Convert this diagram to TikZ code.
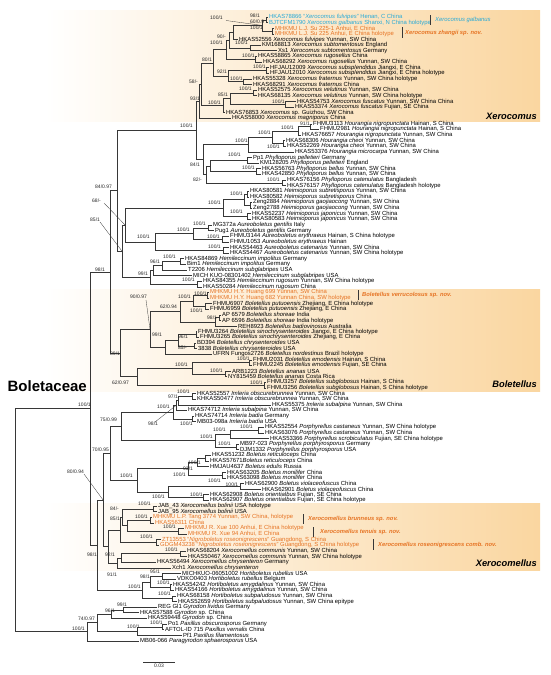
\documentclass[tikz,border=0pt]{standalone}
\usepackage{fontspec}
\setmainfont{Liberation Sans}
\usetikzlibrary{calc}
\definecolor{orng}{RGB}{230,115,35}
\definecolor{cyn}{RGB}{40,170,215}
\definecolor{peach}{RGB}{250,214,160}
\definecolor{ln}{RGB}{55,55,55}
\tikzset{
 br/.style={draw=ln, line width=0.5pt},
 leaf/.style={anchor=west, inner xsep=1pt, inner ysep=0pt, font=\fontsize{5.9}{6}\selectfont, text=black},
 orl/.style={text=orng},
 cyl/.style={text=cyn},
 sup/.style={anchor=west, inner sep=0pt, font=\fontsize{5}{5}\selectfont, text=black!85},
 cl/.style={anchor=west, inner sep=0pt, font=\fontsize{5.8}{6}\selectfont\bfseries\itshape, text=orng},
 big/.style={anchor=east, inner sep=0pt, font=\fontsize{9.3}{10}\selectfont\bfseries\itshape},
 bar/.style={draw=ln, line width=0.8pt},
 lead/.style={draw=ln, line width=0.3pt},
}
\newcommand\Lf[4][]{\node[leaf,#1] (L#2) at ({#3-1},{17+(#2-1)*5.62}) {#4};}
\newcommand\Nd[4]{\path let \p1=(#3), \p2=(#4) in (#2pt,{0.5*(\y1+\y2)}) coordinate (#1);
 \draw[br] (#1) |- (#3); \draw[br] (#1) |- (#4);}
\newcommand\Sv[3]{\node[sup] at (#1,#2) {#3};}
\begin{document}
\begin{tikzpicture}[x=1pt,y=-1pt]
\useasboundingbox (0,0) rectangle (550,675);
% highlighted clades
\shade[left color=white,right color=peach] (45,10) rectangle (540,121);
\shade[left color=white,right color=peach] (45,289) rectangle (540,391);
\shade[left color=white,right color=peach] (45,503) rectangle (540,570);
% leaves
\Lf[cyl]{1}{269}{HKAS78866 “\textit{Xerocomus fulvipes}” Henan, C China}
\Lf[cyl]{2}{269}{BJTCFM1790 \textit{Xerocomus galbanus} Shanxi, N China holotype}
\Lf[orl]{3}{275}{MHKMU L.J. Su 225-1 Anhui, E China}
\Lf[orl]{4}{275}{MHKMU L.J. Su 225 Anhui, E China holotype}
\Lf{5}{239}{HKAS52556 \textit{Xerocomus fulvipes} Yunnan, SW China}
\Lf{6}{262}{KM168813 \textit{Xerocomus subtomentosus} England}
\Lf{7}{278}{Xs1 \textit{Xerocomus subtomentosus} Germany}
\Lf{8}{258}{HKAS58865 \textit{Xerocomus rugosellus} China}
\Lf{9}{263}{HKAS68292 \textit{Xerocomus rugosellus} Yunnan, SW China}
\Lf{10}{270}{HFJAU12009 \textit{Xerocomus subsplendidus} Jiangxi, E China}
\Lf{11}{270}{HFJAU12010 \textit{Xerocomus subsplendidus} Jiangxi, E China holotype}
\Lf{12}{253}{HKAS55328 \textit{Xerocomus fraternus} Yunnan, SW China holotype}
\Lf{13}{253}{HKAS68291 \textit{Xerocomus fraternus} China}
\Lf{14}{258}{HKAS52575 \textit{Xerocomus velutinus} Yunnan, SW China}
\Lf{15}{258}{HKAS68135 \textit{Xerocomus velutinus} Yunnan, SW China holotype}
\Lf{16}{297}{HKAS54753 \textit{Xerocomus fuscatus} Yunnan, SW China China}
\Lf{17}{295}{HKAS53374 \textit{Xerocomus fuscatus} Fujian, SE China}
\Lf{18}{226}{HKAS76853 \textit{Xerocomus} sp. Guizhou, SW China}
\Lf{19}{232}{HKAS58000 \textit{Xerocomus magniporus} China}
\Lf{20}{313}{FHMU3113 \textit{Hourangia nigropunctata} Hainan, S China}
\Lf{21}{320}{FHMU2981 \textit{Hourangia nigropunctata} Hainan, S China}
\Lf{22}{302}{HKAS76657 \textit{Hourangia nigropunctata} Yunnan, SW China}
\Lf{23}{286}{HKAS68306 \textit{Hourangia cheoi} Yunnan, SW China}
\Lf{24}{287}{HKAS52269 \textit{Hourangia cheoi} Yunnan, SW China}
\Lf{25}{295}{HKAS53376 \textit{Hourangia microcarpa} Yunnan, SW China}
\Lf{26}{253}{Pp1 \textit{Phylloporus pelletieri} Germany}
\Lf{27}{260}{KM128205 \textit{Phylloporus pelletieri} England}
\Lf{28}{262}{HKAS56763 \textit{Phylloporus bellus} Yunnan, SW China}
\Lf{29}{262}{HKAS42850 \textit{Phylloporus bellus} Yunnan, SW China}
\Lf{30}{287}{HKAS76156 \textit{Phylloporus catenulatus} Bangladesh}
\Lf{31}{287}{HKAS76157 \textit{Phylloporus catenulatus} Bangladesh holotype}
\Lf{32}{250}{HKAS80581 \textit{Heimioporus subretisporus} Yunnan, SW China}
\Lf{33}{250}{HKAS80582 \textit{Heimioporus subretisporus} China}
\Lf{34}{253}{Zeng2884 \textit{Heimioporus gaojiaocong} Yunnan, SW China}
\Lf{35}{253}{Zeng2788 \textit{Heimioporus gaojiaocong} Yunnan, SW China}
\Lf{36}{252}{HKAS52237 \textit{Heimioporus japonicus} Yunnan, SW China}
\Lf{37}{252}{HKAS80583 \textit{Heimioporus japonicus} Yunnan, SW China}
\Lf{38}{213}{MG372a \textit{Aureoboletus gentilis} Italy}
\Lf{39}{215}{Pug1 \textit{Aureoboletus gentilis} Germany}
\Lf{40}{230}{FHMU3144 \textit{Aureoboletus erythraeus} Hainan, S China holotype}
\Lf{41}{230}{FHMU1053 \textit{Aureoboletus erythraeus} Hainan}
\Lf{42}{230}{HKAS54463 \textit{Aureoboletus catenarius} Yunnan, SW China}
\Lf{43}{230}{HKAS54467 \textit{Aureoboletus catenarius} Yunnan, SW China holotype}
\Lf{44}{185}{HKAS84869 \textit{Hemileccinum impolitus} Germany}
\Lf{45}{187}{Bim1 \textit{Hemileccinum impolitus} Germany}
\Lf{46}{188}{T2206 \textit{Hemileccinum subglabripes} USA}
\Lf{47}{193}{MICH KUO-08301402 \textit{Hemileccinum subglabripes} USA}
\Lf{48}{203}{HKAS84355 \textit{Hemileccinum rugosum} Yunnan, SW China holotype}
\Lf{49}{203}{HKAS50284 \textit{Hemileccinum rugosum} China}
\Lf[orl]{50}{210}{MHKMU H.Y. Huang 699 Yunnan, SW China}
\Lf[orl]{51}{210}{MHKMU H.Y. Huang 682 Yunnan China, SW holotype}
\Lf{52}{213}{FHMU6907 \textit{Boletellus putuoensis} Zhejiang, E China holotype}
\Lf{53}{210}{FHMU6959 \textit{Boletellus putuoensis} Zhejiang, E China}
\Lf{54}{222}{AP 6579 \textit{Boletellus shoreae} India}
\Lf{55}{222}{AP 6596 \textit{Boletellus shoreae} India holotype}
\Lf{56}{238}{REH8923 \textit{Boletellus badiovinosus} Australia}
\Lf{57}{198}{FHMU3264 \textit{Boletellus sinochrysenteroides} Jiangxi, E China holotype}
\Lf{58}{200}{FHMU3265 \textit{Boletellus sinochrysenteroides} Zhejiang, E China}
\Lf{59}{197}{BD394 \textit{Boletellus chrysenteroides} USA}
\Lf{60}{198}{3838 \textit{Boletellus chrysenteroides} USA}
\Lf{61}{213}{UFRN Fungos2726 \textit{Boletellus nordestinus} Brazil holotype}
\Lf{62}{253}{FHMU2031 \textit{Boletellus emodensis} Hainan, S China}
\Lf{63}{253}{FHMU2245 \textit{Boletellus emodensis} Fujian, SE China}
\Lf{64}{232}{ARB1223 \textit{Boletellus ananas} USA}
\Lf{65}{228}{NY815459 \textit{Boletellus ananas} Costa Rica}
\Lf{66}{267}{FHMU3257 \textit{Boletellus subglobosus} Hainan, S China}
\Lf{67}{267}{FHMU3256 \textit{Boletellus subglobosus} Hainan, S China holotype}
\Lf{68}{197}{HKAS52557 \textit{Imleria obscurebrunnea} Yunnan, SW China}
\Lf{69}{197}{KHKAS50477 \textit{Imleria obscurebrunnea} Yunnan, SW China}
\Lf{70}{272}{HKAS55375 \textit{Imleria subalpina} Yunnan, SW China}
\Lf{71}{188}{HKAS74712 \textit{Imleria subalpina} Yunnan, SW China}
\Lf{72}{195}{HKAS74714 \textit{Imleria badia} Germany}
\Lf{73}{197}{MB03-098a \textit{Imleria badia} USA}
\Lf{74}{265}{HKAS52554 \textit{Porphyrellus castaneus} Yunnan, SW China holotype}
\Lf{75}{265}{HKAS63076 \textit{Porphyrellus castaneus} Yunnan, SW China}
\Lf{76}{270}{HKAS53366 \textit{Porphyrellus scrobiculatus} Fujian, SE China holotype}
\Lf{77}{240}{MB97-023 \textit{Porphyrellus porphyrosporus} Germany}
\Lf{78}{240}{DJM1332 \textit{Porphyrellus porphyrosporus} USA}
\Lf{79}{212}{HKAS51232 \textit{Boletus reticuloceps} China}
\Lf{80}{210}{HKAS57671\textit{Boletus reticuloceps} China}
\Lf{81}{210}{HMJAU4637 \textit{Boletus edulis} Russia}
\Lf{82}{227}{HKAS63205 \textit{Boletus monilifer} China}
\Lf{83}{227}{HKAS63098 \textit{Boletus monilifer} China}
\Lf{84}{245}{HKAS62900 \textit{Boletus violaceofuscus} China}
\Lf{85}{262}{HKAS62901 \textit{Boletus violaceofuscus} China}
\Lf{86}{210}{HKAS62908 \textit{Boletus orientialbus} Fujian, SE China}
\Lf{87}{210}{HKAS62907 \textit{Boletus orientialbus} Fujian, SE China holotype}
\Lf{88}{158}{JAB\_43 \textit{Xerocomellus bolinii} USA holotype}
\Lf{89}{158}{JAB\_95 \textit{Xerocomellus bolinii} USA}
\Lf[orl]{90}{153}{MHKMU L.P. Tang 3774 Yunnan, SW China, holotype}
\Lf[orl]{91}{155}{HKAS56311 China}
\Lf[orl]{92}{185}{MHKMU R. Xue 100 Anhui, E China holotype}
\Lf[orl]{93}{188}{MHKMU R. Xue 94 Anhui, E China}
\Lf[orl]{94}{162}{ZT13553 “\textit{Nigroboletus roseonigrescens}” Guangdong, S China}
\Lf[orl]{95}{160}{GDGM43238 “\textit{Nigroboletus roseonigrescens}” Guangdong, S China holotype}
\Lf{96}{187}{HKAS68204 \textit{Xerocomellus communis} Yunnan, SW China}
\Lf{97}{188}{HKAS50467 \textit{Xerocomellus communis} Yunnan, SW China holotype}
\Lf{98}{157}{HKAS56494 \textit{Xerocomellus chrysenteron} Germany}
\Lf{99}{172}{Xch1 \textit{Xerocomellus chrysenteron}}
\Lf{100}{182}{MICHKUO-06051002 \textit{Hortiboletus rubellus} USA}
\Lf{101}{177}{VDKO0403 \textit{Hortiboletus rubellus} Belgium}
\Lf{102}{173}{HKAS54242 \textit{Hortiboletus amygdalinus} Yunnan, SW China}
\Lf{103}{175}{HKAS54166 \textit{Hortiboletus amygdalinus} Yunnan, SW China}
\Lf{104}{177}{HKAS68158 \textit{Hortiboletus subpaludosus} Yunnan, SW China}
\Lf{105}{178}{HKAS52659 \textit{Hortiboletus subpaludosus} Yunnan, SW China epitype}
\Lf{106}{158}{REG Gl1 \textit{Gyrodon lividus} Germany}
\Lf{107}{140}{HKAS57588 \textit{Gyrodon} sp. China}
\Lf{108}{148}{HKAS59448 \textit{Gyrodon} sp. China}
\Lf{109}{168}{Po1 \textit{Paxillus obscurosporus} Germany}
\Lf{110}{165}{AFTOL-ID 715 \textit{Paxillus vernalis} China}
\Lf{111}{183}{Pf1 \textit{Paxillus filamentosus}}
\Lf{112}{140}{MB06-066 \textit{Paragyrodon sphaerosporus} USA}
% Xerocomus
\Nd{xa}{266}{L1}{L2}
\Nd{xb}{272}{L3}{L4}
\Nd{xc}{262}{xa}{xb}
\Nd{xd}{233}{xc}{L5}
\Nd{xe}{250}{L6}{L7}
\Nd{xf}{229}{xd}{xe}
\Nd{xg}{255}{L8}{L9}
\Nd{xh}{226}{xf}{xg}
\Nd{xi}{266}{L10}{L11}
\Nd{xj}{243}{L12}{L13}
\Nd{xk}{228}{xi}{xj}
\Nd{xl}{213}{xh}{xk}
\Nd{xm}{253}{L14}{L15}
\Nd{xn}{285}{L16}{L17}
\Nd{xo}{230}{xm}{xn}
\Nd{xp}{223}{xo}{L18}
\Nd{xq}{201}{xl}{xp}
\Nd{xr}{199}{xq}{L19}
% Hourangia, Phylloporus
\Nd{ha}{310}{L20}{L21}
\Nd{hb}{298}{ha}{L22}
\Nd{hc}{283}{L23}{L24}
\Nd{hd}{272}{hb}{hc}
\Nd{he}{248}{hd}{L25}
\Nd{pa}{247}{L26}{L27}
\Nd{pb}{256}{L28}{L29}
\Nd{pc}{210}{pa}{pb}
\Nd{pd}{282}{L30}{L31}
\Nd{pe}{206}{pc}{pd}
\Nd{hp}{203}{he}{pe}
\Nd{nxhp}{196}{xr}{hp}
% Heimioporus, Aureoboletus, Hemileccinum
\Nd{ma}{247}{L32}{L33}
\Nd{mb}{250}{L34}{L35}
\Nd{mc}{244}{ma}{mb}
\Nd{md}{247}{L36}{L37}
\Nd{me}{223}{mc}{md}
\Nd{aa}{208}{L38}{L39}
\Nd{ab}{222}{L40}{L41}
\Nd{ac}{193}{aa}{ab}
\Nd{ad}{223}{L42}{L43}
\Nd{ae}{155}{ac}{ad}
\Nd{nha}{125}{me}{ae}
\Nd{la}{180}{L44}{L45}
\Nd{lb}{162}{la}{L46}
\Nd{lc}{153}{lb}{L47}
\Nd{ld}{197}{L48}{L49}
\Nd{le}{150}{lc}{ld}
\Nd{nhah}{122}{nha}{le}
\Nd{nup}{117}{nxhp}{nhah}
% Boletellus
\Nd{ba}{207}{L50}{L51}
\Nd{bb}{205}{L52}{L53}
\Nd{bc}{193}{ba}{bb}
\Nd{bd}{219}{L54}{L55}
\Nd{be}{215}{bd}{L56}
\Nd{bf}{180}{bc}{be}
\Nd{bg}{196}{L57}{L58}
\Nd{bh}{194}{L59}{L60}
\Nd{bi}{178}{bg}{bh}
\Nd{bj}{165}{bi}{L61}
\Nd{bk}{150}{bf}{bj}
\Nd{bl}{249}{L62}{L63}
\Nd{bm}{225}{L64}{L65}
\Nd{bn}{192}{bl}{bm}
\Nd{bo}{264}{L66}{L67}
\Nd{bp}{137}{bn}{bo}
\Nd{bq}{120}{bk}{bp}
\Nd{tone}{110}{nup}{bq}
% Imleria, Porphyrellus, Boletus
\Nd{ia}{192}{L68}{L69}
\Nd{ib}{178}{ia}{L70}
\Nd{ic}{176}{ib}{L71}
\Nd{id}{192}{L72}{L73}
\Nd{ie}{173}{ic}{id}
\Nd{ra}{258}{L74}{L75}
\Nd{rb}{230}{ra}{L76}
\Nd{rc}{236}{L77}{L78}
\Nd{rd}{215}{rb}{rc}
\Nd{nir}{121}{ie}{rd}
\Nd{oa}{205}{L79}{L80}
\Nd{ob}{197}{oa}{L81}
\Nd{oc}{222}{L82}{L83}
\Nd{od}{188}{ob}{oc}
\Nd{oe}{240}{L84}{L85}
\Nd{of}{203}{L86}{L87}
\Nd{og}{168}{oe}{of}
\Nd{oh}{137}{od}{og}
\Nd{nirb}{110}{nir}{oh}
% Xerocomellus
\Nd{ca}{153}{L88}{L89}
\Nd{cb}{150}{L90}{L91}
\Nd{cc}{178}{L92}{L93}
\Nd{cd}{127}{cb}{cc}
\Nd{ce}{122}{ca}{cd}
\Nd{cf}{156}{L94}{L95}
\Nd{cg}{120}{ce}{cf}
\Nd{ch}{180}{L96}{L97}
\Nd{ci}{121}{ch}{L98}
\Nd{cj}{117}{ci}{L99}
\Nd{ck}{108}{cg}{cj}
\Nd{nlow}{103}{nirb}{ck}
% Hortiboletus
\Nd{ta}{162}{L100}{L101}
\Nd{tb}{170}{L102}{L103}
\Nd{tc}{150}{ta}{tb}
\Nd{td}{172}{L104}{L105}
\Nd{te}{142}{tc}{td}
\Nd{bot}{97}{nlow}{te}
\Nd{bolet}{90}{tone}{bot}
% outgroup
\Nd{ga}{123}{L106}{L107}
\Nd{gb}{111}{ga}{L108}
\Nd{qa}{162}{L109}{L110}
\Nd{qb}{137}{qa}{L111}
\Nd{gc}{97}{gb}{qb}
\Nd{outg}{87}{gc}{L112}
\Nd{root}{15}{bolet}{outg}
% leader lines
\coordinate (k1) at (226,20.5);
\coordinate (k2) at (104,203);
\coordinate (k3) at (100,222);
\coordinate (k4) at (146,300);
\coordinate (k5) at (155,422);
\coordinate (k6) at (84,474);
\draw[lead] (k1) -- (xc);
\draw[lead] (k2) -- (nha);
\draw[lead] (k3) -- (nhah);
\draw[lead] (k4) -- (bk);
\draw[lead] (k5) -- (ic);
\draw[lead] (k6) -- (nlow);
% support values
\Sv{210}{18}{100/1}
\Sv{250}{15.5}{98/1}
\Sv{250}{22}{60/0.9}
\Sv{250}{28}{100/1}
\Sv{217}{37}{90/-}
\Sv{210}{43}{100/1}
\Sv{235}{43}{100/1}
\Sv{242}{56}{100/1}
\Sv{202}{60}{80/1}
\Sv{253}{67}{100/1}
\Sv{217}{72}{92/1}
\Sv{230}{79}{100/1}
\Sv{189}{82}{58/-}
\Sv{239}{89}{100/1}
\Sv{218}{95}{85/1}
\Sv{272}{101.5}{100/1}
\Sv{190}{99}{93/1}
\Sv{208}{103}{100/1}
\Sv{180}{126}{100/1}
\Sv{300}{123.5}{91/1}
\Sv{281}{128}{100/1}
\Sv{258}{133}{100/1}
\Sv{235}{141}{100/1}
\Sv{267}{147}{100/1}
\Sv{228}{155}{100/1}
\Sv{190}{165}{84/1}
\Sv{242}{168}{100/1}
\Sv{193}{180}{82/-}
\Sv{267}{180}{100/1}
\Sv{95}{187}{84/0.97}
\Sv{230}{194}{100/1}
\Sv{92}{201}{68/-}
\Sv{208}{203}{100/1}
\Sv{230}{212}{100/1}
\Sv{90}{220}{85/1}
\Sv{193}{224}{100/1}
\Sv{177}{230}{100/1}
\Sv{207}{237}{100/1}
\Sv{137}{237}{100/1}
\Sv{208}{247}{100/1}
\Sv{163}{257}{100/1}
\Sv{150}{262}{96/1}
\Sv{95}{270}{98/1}
\Sv{138}{274}{99/1}
\Sv{182}{280}{100/1}
\Sv{194}{293.5}{100/1}
\Sv{178}{297}{100/1}
\Sv{130}{297}{90/0.97}
\Sv{160}{307}{62/0.94}
\Sv{190}{311}{100/1}
\Sv{207}{318}{98/1}
\Sv{152}{335}{99/1}
\Sv{178}{337}{96/1}
\Sv{178}{348}{85/-}
\Sv{110}{354}{89/1}
\Sv{237}{359}{100/1}
\Sv{175}{365}{100/1}
\Sv{210}{371}{100/1}
\Sv{250}{382.5}{100/1}
\Sv{112}{383}{62/0.97}
\Sv{78}{405}{100/1}
\Sv{177}{392}{100/1}
\Sv{168}{397}{97/1}
\Sv{157}{407}{100/1}
\Sv{148}{424}{98/1}
\Sv{180}{424}{100/1}
\Sv{100}{420}{75/0.99}
\Sv{240}{427}{100/1}
\Sv{213}{430}{100/1}
\Sv{200}{437}{100/1}
\Sv{218}{444}{100/1}
\Sv{92}{450}{70/0.95}
\Sv{188}{463}{100/1}
\Sv{183}{469}{93/1}
\Sv{173}{475}{100/1}
\Sv{120}{476}{100/1}
\Sv{208}{481}{100/1}
\Sv{67}{472}{80/0.94}
\Sv{225.5}{484.5}{100/1}
\Sv{152}{497}{100/1}
\Sv{190}{495}{100/1}
\Sv{138}{504}{100/1}
\Sv{110}{509}{84/-}
\Sv{135}{517}{100/1}
\Sv{110}{519}{85/1}
\Sv{163}{527}{100/1}
\Sv{140}{537}{100/1}
\Sv{165}{550}{100/1}
\Sv{87}{555}{98/1}
\Sv{105}{555}{92/1}
\Sv{107}{575}{91/1}
\Sv{150}{572}{95/1}
\Sv{140}{577}{98/1}
\Sv{157}{583}{100/1}
\Sv{128}{587}{100/1}
\Sv{158}{594}{100/1}
\Sv{117}{605}{99/1}
\Sv{105}{611}{96/1}
\Sv{78}{619}{74/0.97}
\Sv{72}{629}{100/1}
\Sv{127}{627}{100/1}
\Sv{150}{623}{100/1}
% clade labels
\coordinate (b1a) at (430,15); \coordinate (b1b) at (430,25); \draw[bar] (b1a) -- (b1b);
\node[cl,text=cyn,font=\fontsize{5.9}{6}\selectfont\itshape] (c1) at (435,20) {Xerocomus galbanus};
\coordinate (b2a) at (402,27); \coordinate (b2b) at (402,38); \draw[bar] (b2a) -- (b2b);
\node[cl] (c2) at (405,32.5) {Xerocomus zhangii sp. nov.};
\node[big] (g1) at (537,116) {Xerocomus};
\coordinate (b3a) at (358,290); \coordinate (b3b) at (358,300); \draw[bar] (b3a) -- (b3b);
\node[cl] (c3) at (362,295) {Boletellus verrucolosus sp. nov.};
\node[big] (g2) at (537,384) {Boletellus};
\coordinate (b4a) at (303,514); \coordinate (b4b) at (303,524); \draw[bar] (b4a) -- (b4b);
\node[cl] (c4) at (308,519) {Xerocomellus brunneus sp. nov.};
\coordinate (b5a) at (313,527); \coordinate (b5b) at (313,537); \draw[bar] (b5a) -- (b5b);
\node[cl] (c5) at (320,532) {Xerocomellus tenuis sp. nov.};
\coordinate (b6a) at (373,539); \coordinate (b6b) at (373,550); \draw[bar] (b6a) -- (b6b);
\node[cl] (c6) at (378,545) {Xerocomellus roseonigrescens comb. nov.};
\node[big] (g3) at (537,563) {Xerocomellus};
\node[anchor=east,inner sep=0pt,font=\fontsize{15}{16}\selectfont\bfseries] (fam) at (87,386) {Boletaceae};
% scale bar
\coordinate (s1) at (143,662); \coordinate (s2) at (175,662);
\draw[br] (s1) -- (s2);
\node[sup,anchor=north] (sl) at (159,664) {0.03};
\end{tikzpicture}
\end{document}
